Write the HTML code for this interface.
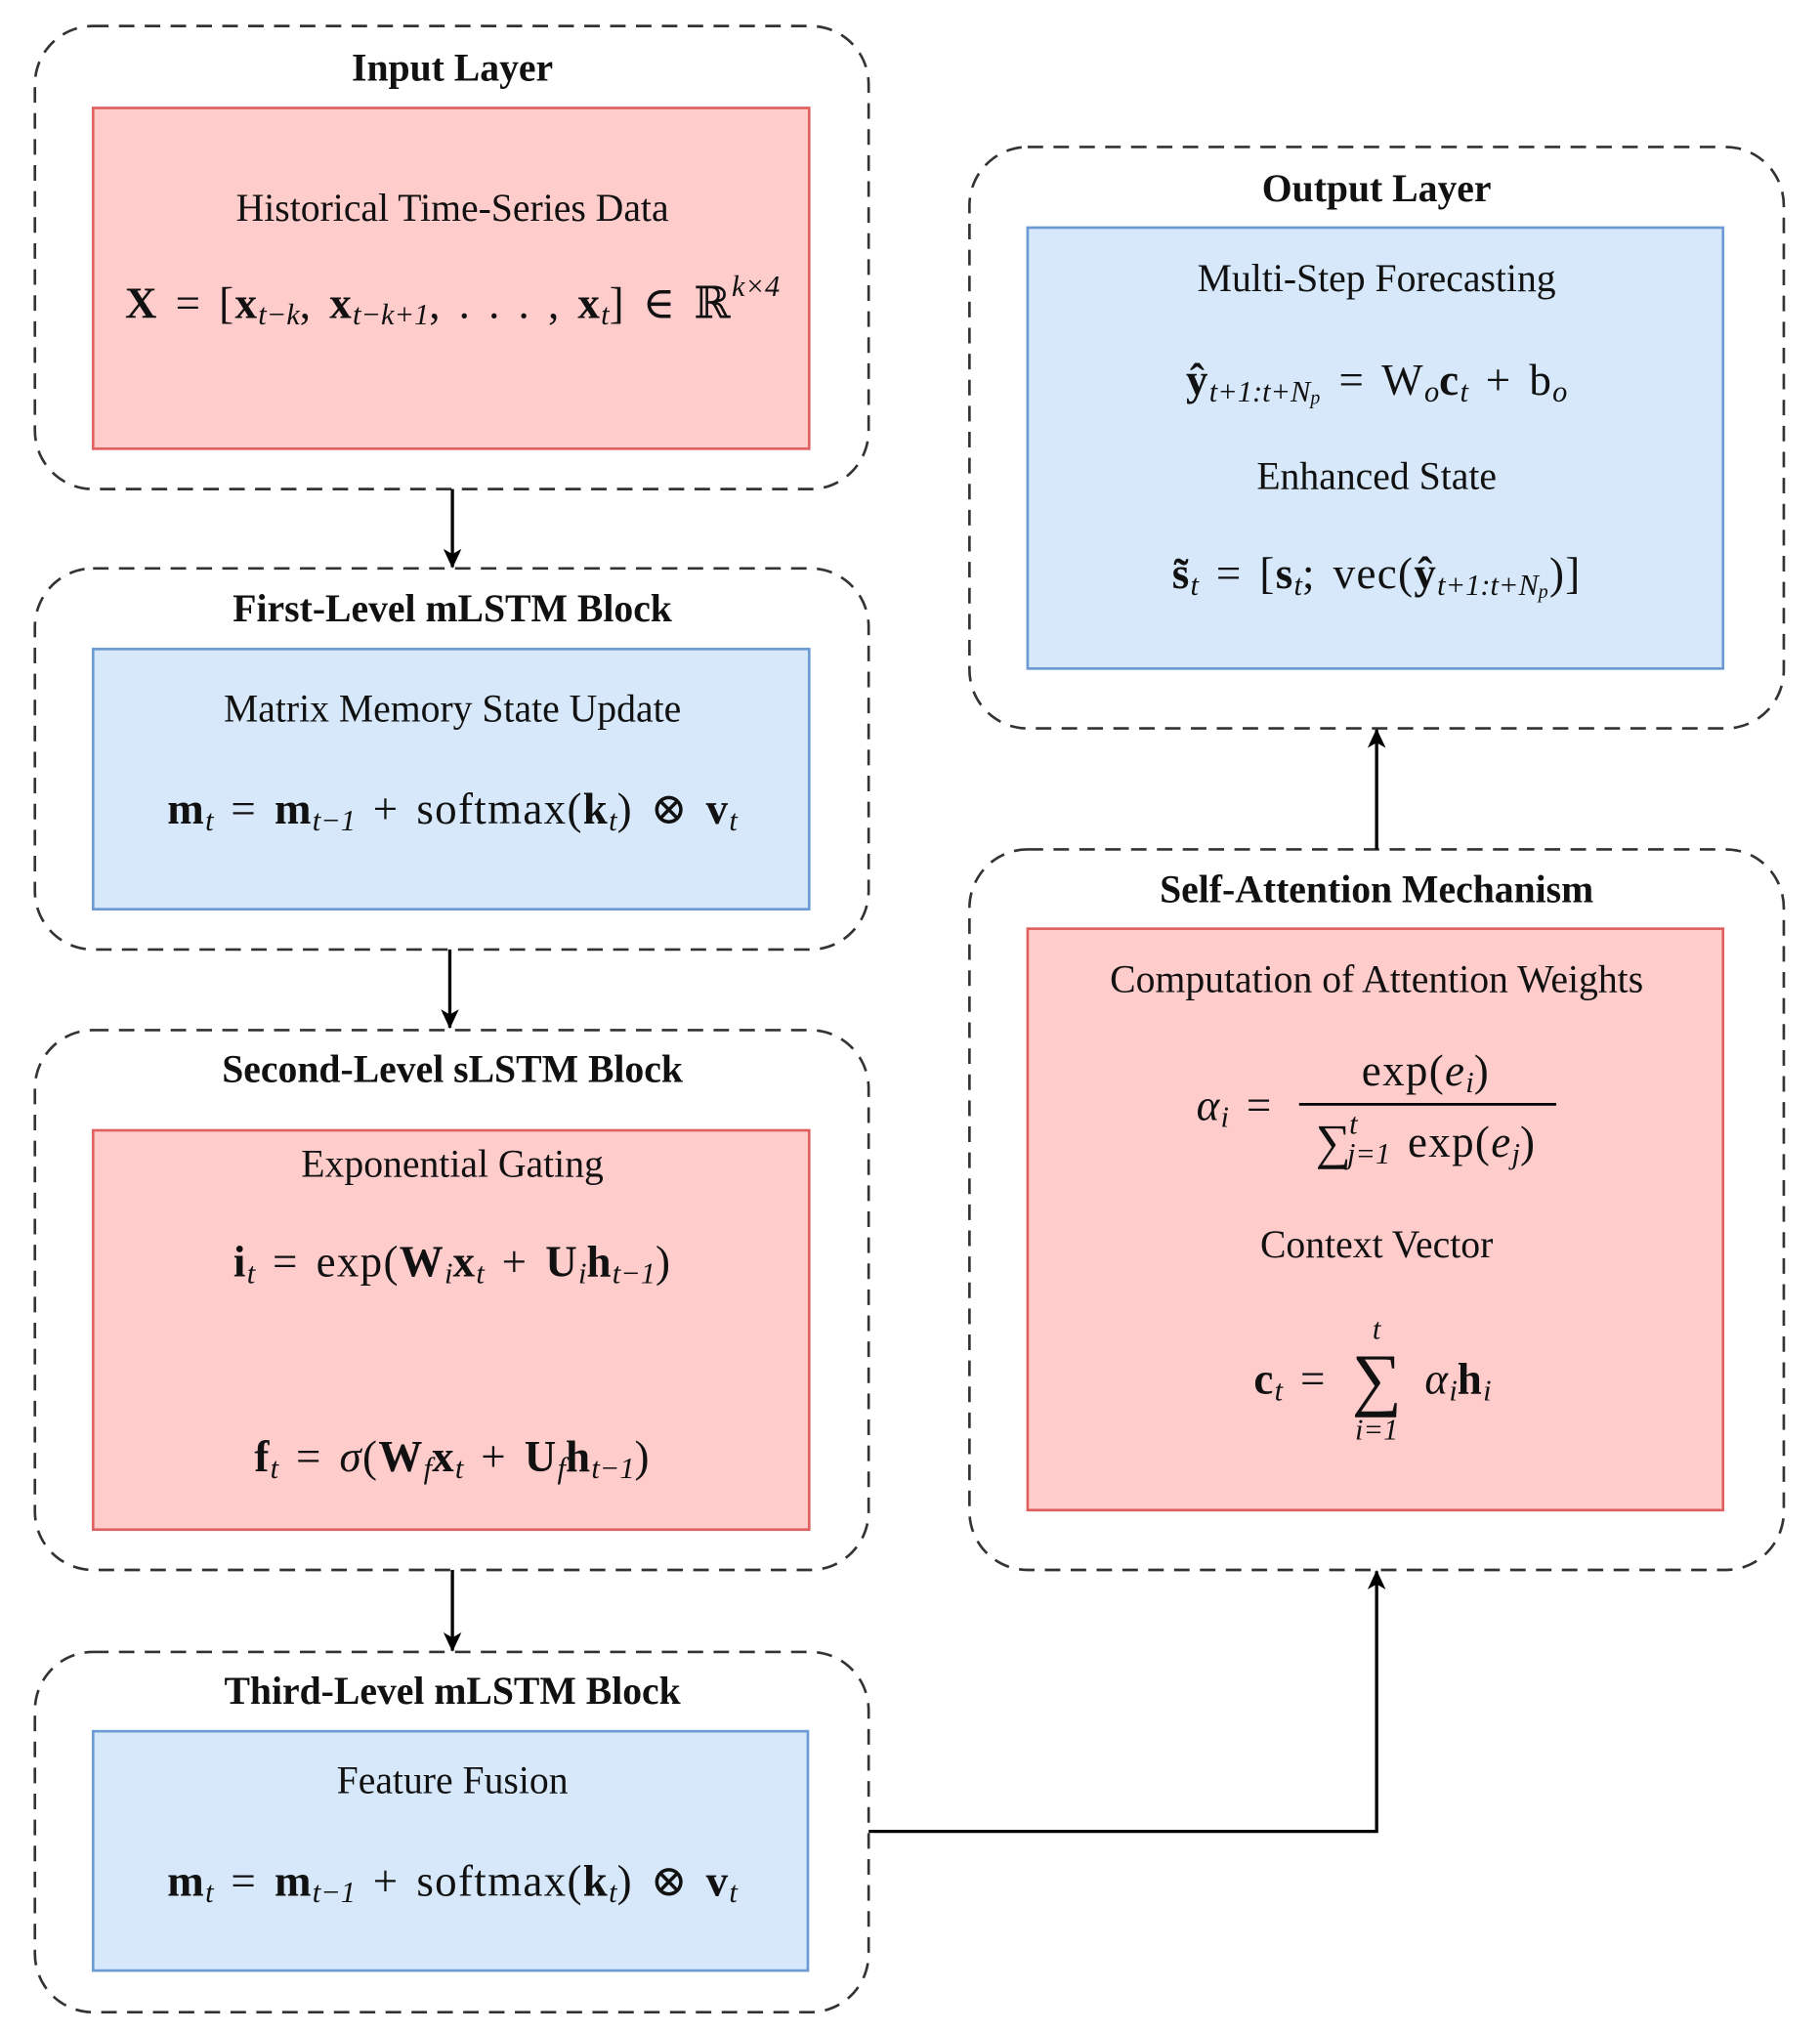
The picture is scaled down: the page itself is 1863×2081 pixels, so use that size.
<!DOCTYPE html>
<html><head><meta charset="utf-8"><style>
html,body{margin:0;padding:0;background:#fff}
svg{display:block}
text{font-family:"Liberation Serif","DejaVu Serif",serif;fill:#111}
.t{font-weight:bold;font-size:30px}
.b{font-size:30px}
.f{font-size:34px;letter-spacing:1px;word-spacing:4px}
.s{font-size:23px;letter-spacing:0}
</style></head><body>
<svg width="1863" height="2081" viewBox="0 0 1408 1563" preserveAspectRatio="none" xmlns="http://www.w3.org/2000/svg">
<defs><marker id="a" markerWidth="16" markerHeight="16" refX="14" refY="7" orient="auto" markerUnits="userSpaceOnUse"><path d="M0,0 L15,7 L0,14 L4,7 z" fill="#000"/></marker></defs>
<g fill="none" stroke="#333" stroke-width="2" stroke-dasharray="12,8">
<rect x="27" y="20" width="645" height="356" rx="45"/>
<rect x="27" y="437" width="645" height="293" rx="45"/>
<rect x="27" y="792" width="645" height="415" rx="45"/>
<rect x="27" y="1270" width="645" height="277" rx="45"/>
<rect x="750" y="653" width="630" height="554" rx="45"/>
<rect x="750" y="113" width="630" height="447" rx="45"/>
</g>
<g stroke-width="2">
<rect x="72" y="83" width="554" height="262" fill="#ffcccc" stroke="#e06060"/>
<rect x="72" y="499" width="554" height="200" fill="#d6e8f9" stroke="#6c9ad4"/>
<rect x="72" y="869" width="554" height="307" fill="#ffcccc" stroke="#e06060"/>
<rect x="72" y="1331" width="553" height="184" fill="#d6e8f9" stroke="#6c9ad4"/>
<rect x="795" y="714" width="538" height="447" fill="#ffcccc" stroke="#e06060"/>
<rect x="795" y="175" width="538" height="339" fill="#d6e8f9" stroke="#6c9ad4"/>
</g>
<g stroke="#000" stroke-width="2.5" fill="none" marker-end="url(#a)">
<path d="M350 376 V436"/>
<path d="M348 730 V790"/>
<path d="M350 1207 V1269"/>
<path d="M672 1408 H1065 V1208"/>
<path d="M1065 653 V561"/>
</g>
<g text-anchor="middle" dominant-baseline="central">
<text class="t" x="350" y="52">Input Layer</text>
<text class="b" x="350" y="160">Historical Time-Series Data</text>
<text class="f" x="350" y="233"><tspan font-weight="bold">X</tspan> = [<tspan font-weight="bold">x</tspan><tspan class="s" font-style="italic" dy="9">t−k</tspan><tspan dy="-9">, </tspan><tspan font-weight="bold">x</tspan><tspan class="s" font-style="italic" dy="9">t−k+1</tspan><tspan dy="-9">, . . . , </tspan><tspan font-weight="bold">x</tspan><tspan class="s" font-style="italic" dy="9">t</tspan><tspan dy="-9">] ∈ ℝ</tspan><tspan class="s" font-style="italic" dy="-13">k×4</tspan></text>

<text class="t" x="350" y="468">First-Level mLSTM Block</text>
<text class="b" x="350" y="545">Matrix Memory State Update</text>
<text class="f" x="350" y="622"><tspan font-weight="bold">m</tspan><tspan class="s" font-style="italic" dy="9">t</tspan><tspan dy="-9"> = </tspan><tspan font-weight="bold">m</tspan><tspan class="s" font-style="italic" dy="9">t−1</tspan><tspan dy="-9"> + softmax(</tspan><tspan font-weight="bold">k</tspan><tspan class="s" font-style="italic" dy="9">t</tspan><tspan dy="-9">) ⊗ </tspan><tspan font-weight="bold">v</tspan><tspan class="s" font-style="italic" dy="9">t</tspan></text>

<text class="t" x="350" y="822">Second-Level sLSTM Block</text>
<text class="b" x="350" y="895">Exponential Gating</text>
<text class="f" x="350" y="970"><tspan font-weight="bold">i</tspan><tspan class="s" font-style="italic" dy="9">t</tspan><tspan dy="-9"> = exp(</tspan><tspan font-weight="bold">W</tspan><tspan class="s" font-style="italic" dy="9">i</tspan><tspan dy="-9" font-weight="bold">x</tspan><tspan class="s" font-style="italic" dy="9">t</tspan><tspan dy="-9"> + </tspan><tspan font-weight="bold">U</tspan><tspan class="s" font-style="italic" dy="9">i</tspan><tspan dy="-9" font-weight="bold">h</tspan><tspan class="s" font-style="italic" dy="9">t−1</tspan><tspan dy="-9">)</tspan></text>
<text class="f" x="350" y="1120"><tspan font-weight="bold">f</tspan><tspan class="s" font-style="italic" dy="9">t</tspan><tspan dy="-9"> = </tspan><tspan font-style="italic">σ</tspan><tspan>(</tspan><tspan font-weight="bold">W</tspan><tspan class="s" font-style="italic" dy="9">f</tspan><tspan dy="-9" font-weight="bold">x</tspan><tspan class="s" font-style="italic" dy="9">t</tspan><tspan dy="-9"> + </tspan><tspan font-weight="bold">U</tspan><tspan class="s" font-style="italic" dy="9">f</tspan><tspan dy="-9" font-weight="bold">h</tspan><tspan class="s" font-style="italic" dy="9">t−1</tspan><tspan dy="-9">)</tspan></text>

<text class="t" x="350" y="1300">Third-Level mLSTM Block</text>
<text class="b" x="350" y="1369">Feature Fusion</text>
<text class="f" x="350" y="1446"><tspan font-weight="bold">m</tspan><tspan class="s" font-style="italic" dy="9">t</tspan><tspan dy="-9"> = </tspan><tspan font-weight="bold">m</tspan><tspan class="s" font-style="italic" dy="9">t−1</tspan><tspan dy="-9"> + softmax(</tspan><tspan font-weight="bold">k</tspan><tspan class="s" font-style="italic" dy="9">t</tspan><tspan dy="-9">) ⊗ </tspan><tspan font-weight="bold">v</tspan><tspan class="s" font-style="italic" dy="9">t</tspan></text>

<text class="t" x="1065" y="145">Output Layer</text>
<text class="b" x="1065" y="214">Multi-Step Forecasting</text>
<text class="f" x="1065" y="292"><tspan font-weight="bold">ŷ</tspan><tspan class="s" font-style="italic" dy="9">t+1:t+N</tspan><tspan font-size="15" font-style="italic" dy="5">p</tspan><tspan dy="-14"> = W</tspan><tspan class="s" font-style="italic" dy="9">o</tspan><tspan dy="-9" font-weight="bold">c</tspan><tspan class="s" font-style="italic" dy="9">t</tspan><tspan dy="-9"> + b</tspan><tspan class="s" font-style="italic" dy="9">o</tspan></text>
<text class="b" x="1065" y="366">Enhanced State</text>
<text class="f" x="1065" y="441"><tspan font-weight="bold">s̃</tspan><tspan class="s" font-style="italic" dy="9">t</tspan><tspan dy="-9"> = [</tspan><tspan font-weight="bold">s</tspan><tspan class="s" font-style="italic" dy="9">t</tspan><tspan dy="-9">; vec(</tspan><tspan font-weight="bold">ŷ</tspan><tspan class="s" font-style="italic" dy="9">t+1:t+N</tspan><tspan font-size="15" font-style="italic" dy="5">p</tspan><tspan dy="-14">)]</tspan></text>

<text class="t" x="1065" y="684">Self-Attention Mechanism</text>
<text class="b" x="1065" y="753">Computation of Attention Weights</text>
<text class="f" x="955" y="850" font-style="italic">α<tspan class="s" dy="9">i</tspan><tspan dy="-9" font-style="normal"> =</tspan></text>
<text class="f" x="1103" y="823">exp(<tspan font-style="italic">e</tspan><tspan class="s" font-style="italic" dy="9">i</tspan><tspan dy="-9">)</tspan></text>
<text class="f" x="1103" y="878"><tspan font-size="38">∑</tspan><tspan class="s" font-style="italic" dx="-2" dy="-14">t</tspan><tspan class="s" font-style="italic" dx="-8" dy="23">j=1</tspan><tspan dy="-9"> exp(</tspan><tspan font-style="italic">e</tspan><tspan class="s" font-style="italic" dy="9">j</tspan><tspan dy="-9">)</tspan></text>
<text class="b" x="1065" y="957">Context Vector</text>
<text class="f" x="998" y="1060" font-weight="bold">c<tspan class="s" font-weight="normal" font-style="italic" dy="9">t</tspan><tspan dy="-9" font-weight="normal"> =</tspan></text>
<text x="1065" y="1060" font-size="54">∑</text>
<text class="s" x="1065" y="1022" font-style="italic">t</text>
<text class="s" x="1065" y="1099" font-style="italic">i=1</text>
<text class="f" x="1128" y="1060"><tspan font-style="italic">α</tspan><tspan class="s" font-style="italic" dy="9">i</tspan><tspan dy="-9" font-weight="bold">h</tspan><tspan class="s" font-style="italic" dy="9">i</tspan></text>
</g>
<line x1="1005" y1="849" x2="1204" y2="849" stroke="#000" stroke-width="2"/>
</svg>
</body></html>
